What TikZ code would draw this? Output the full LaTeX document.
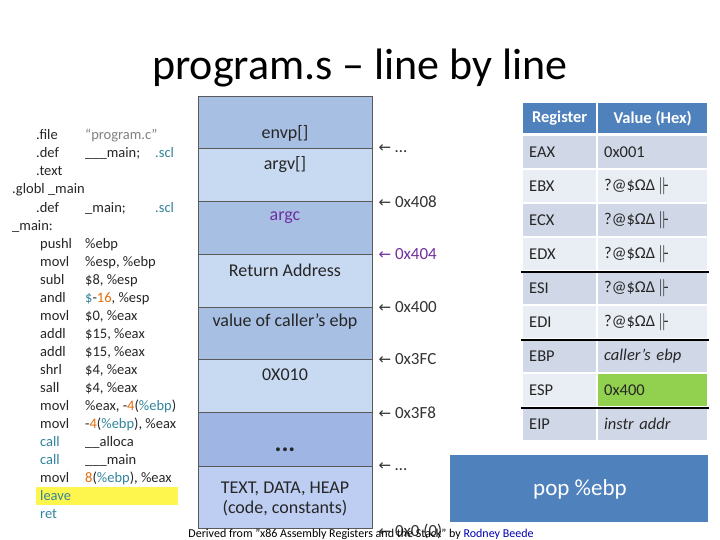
\documentclass[tikz,border=0pt]{standalone}
\usepackage{fontspec}
\setmainfont{Carlito}
\newfontfamily\djv{DejaVu Sans}
\definecolor{sdark}{HTML}{A7BFE3}
\definecolor{slight}{HTML}{C8D9F2}
\definecolor{hdr}{HTML}{4F81BD}
\definecolor{rdark}{HTML}{D0D8E8}
\definecolor{rlight}{HTML}{E9EDF4}
\definecolor{kw}{HTML}{31859C}
\definecolor{num}{HTML}{E36C09}
\definecolor{grn}{HTML}{92D050}
\definecolor{purp}{HTML}{7030A0}
\definecolor{codec}{HTML}{262626}
\begin{document}
\begin{tikzpicture}[x=1pt,y=-1pt,
  code/.style={anchor=base west,inner sep=0pt,font=\fontsize{14.5}{14.5}\selectfont,text=codec},
  slot/.style={draw=gray!70!black,line width=0.4pt,minimum width=174pt,anchor=north west,inner sep=0pt},
  slab/.style={font=\fontsize{18}{20}\selectfont,align=center,text=black!85},
  addr/.style={anchor=west,font=\fontsize{17}{17}\selectfont,text=black!80,inner sep=0pt},
  cell/.style={anchor=north west,minimum height=32pt,inner sep=0pt,text=black!85,font=\fontsize{16.5}{16.5}\selectfont},
  regc/.style={cell,minimum width=73pt,fill=#1},
  valc/.style={cell,minimum width=109pt,fill=#1}]
\useasboundingbox (0,0) rectangle (720,540);
\fill[white] (0,0) rectangle (720,540);
\node[font=\fontsize{44}{44}\selectfont,text=black] (title) at (360,68) {program.s -- line by line};
% code
\fill[yellow!70!white] (36,487) rectangle (178,505);
\begin{scope}
\clip (0,110) rectangle (178,530);
\node[code] (c1) at (36,140) {.file};
\node[code,text=gray] at (85,140) {“program.c"};
\node[code] (c2) at (36,158) {.def};
\node[code] at (85,158) {\_\_\_main;};
\node[code,text=kw] at (155,158) {.scl};
\node[code] (c3) at (36,176) {.text};
\node[code] (c4) at (12,194) {.globl \_main};
\node[code] (c5) at (36,212) {.def};
\node[code] at (85,212) {\_main;};
\node[code,text=kw] at (155,212) {.scl};
\node[code] (c6) at (12,230) {\_main:};
\foreach \i/\m/\o in {0/pushl/\%ebp,1/movl/{\%esp, \%ebp},2/subl/{\$8, \%esp},3/andl/{\textcolor{kw}{\$}-\textcolor{num}{16}, \%esp},4/movl/{\$0, \%eax},5/addl/{\$15, \%eax},6/addl/{\$15, \%eax},7/shrl/{\$4, \%eax},8/sall/{\$4, \%eax},9/movl/{\%eax, -\textcolor{num}{4}(\textcolor{kw}{\%ebp})},10/movl/{-\textcolor{num}{4}(\textcolor{kw}{\%ebp}), \%eax}}{
  \node[code] at (40,248+18*\i) {\m};
  \node[code] at (85,248+18*\i) {\o};
}
\node[code,text=kw] (k1) at (40,446) {call};
\node[code] at (85,446) {\_\_alloca};
\node[code,text=kw] (k2) at (40,464) {call};
\node[code] at (85,464) {\_\_\_main};
\node[code] (k3) at (40,482) {movl};
\node[code] at (85,482) {\textcolor{num}{8}(\textcolor{kw}{\%ebp}), \%eax};
\node[code,text=kw] (k4) at (40,500) {leave};
\node[code,text=kw] (k5) at (40,518) {ret};
\end{scope}
% stack
\node[slot,fill=sdark,minimum height=52pt] (s1) at (198,96) {};
\node[slot,fill=slight,minimum height=53pt] (s2) at (198,148) {};
\node[slot,fill=sdark,minimum height=53pt] (s3) at (198,201) {};
\node[slot,fill=slight,minimum height=53pt] (s4) at (198,254) {};
\node[slot,fill=sdark,minimum height=52pt] (s5) at (198,307) {};
\node[slot,fill=slight,minimum height=53pt] (s6) at (198,359) {};
\node[slot,fill=sdark!95!blue,minimum height=54pt] (s7) at (198,412) {};
\node[slot,fill=slight!95!blue,minimum height=62pt] (s8) at (198,466) {};
\node[slab] at (285,133) {envp[]};
\node[slab] at (285,165) {argv[]};
\node[slab,text=purp] at (285,218) {argc};
\node[slab] at (285,270) {Return Address};
\node[slab] at (285,322) {value of caller's ebp};
\node[slab] at (285,375) {0X010};
\node[slab,font=\bfseries\fontsize{26}{26}\selectfont] at (285,450) {...};
\node[slab] at (285,499) {TEXT, DATA, HEAP\\(code, constants)};
\foreach \n/\t/\c in {s1/\dots/black!80,s2/0x408/black!80,s3/0x404/purp,s4/0x400/black!80,s5/0x3FC/black!80,s6/0x3F8/black!80,s7/\dots/black!80}{
  \node[addr,text=\c] at ([xshift=6pt]\n.south east) {{\djv\fontsize{15}{15}\selectfont←} \t};
}
\node[addr] (a0) at ([xshift=6pt,yshift=-3pt]s8.south east) {{\djv\fontsize{15}{15}\selectfont←} 0x0 (0)};
% table
\fill[white] (521,101) rectangle (709,442);
\node[cell,fill=hdr,minimum width=73pt,minimum height=30pt,text=white,font=\bfseries\fontsize{16.5}{16.5}\selectfont] (h1) at (523,103) {Register};
\node[cell,fill=hdr,minimum width=109pt,minimum height=30pt,text=white,font=\bfseries\fontsize{16.5}{16.5}\selectfont] (h2) at (598,103) {Value (Hex)};
\foreach \i/\r/\v/\f in {0/EAX/0x001/rdark,1/EBX/?@\$ΩΔ\,$\Vert\!$-/rlight,2/ECX/?@\$ΩΔ\,$\Vert\!$-/rdark,3/EDX/?@\$ΩΔ\,$\Vert\!$-/rlight,4/ESI/?@\$ΩΔ\,$\Vert\!$-/rdark,5/EDI/?@\$ΩΔ\,$\Vert\!$-/rlight,6/EBP/\textit{caller's ebp}/rdark,7/ESP/0x400/rlight,8/EIP/\textit{instr addr}/rdark}{
  \node[regc=\f,text width=61pt,align=left] (r\i) at (523,136+34*\i) {\r};
  \node[valc=\f,text width=97pt,align=left] (v\i) at (598,136+34*\i) {\v};
}
\fill[grn] (598,374) rectangle (707,406);
\node[anchor=north west,minimum height=32pt,text width=97pt,inner sep=0pt,align=left,text=black!85,font=\fontsize{16.5}{16.5}\selectfont,minimum width=109pt] at (598,374) {0x400};
\draw[line width=1.6pt] (521,272) -- (709,272) (521,340) -- (709,340) (521,408) -- (709,408);
% pop box
\node[fill=hdr,minimum width=258pt,minimum height=67pt,anchor=north west,inner sep=0pt] (pop) at (450,455) {};
\node[text=white,font=\fontsize{23}{23}\selectfont] at (580,489) {pop \%ebp};
% footer
\node[anchor=base,inner sep=0pt,font=\fontsize{12}{12}\selectfont] (ft) at (361,537) {Derived from "x86 Assembly Registers and the Stack" by \textcolor{blue!70!black}{\underline{Rodney Beede}}};
\end{tikzpicture}
\end{document}
